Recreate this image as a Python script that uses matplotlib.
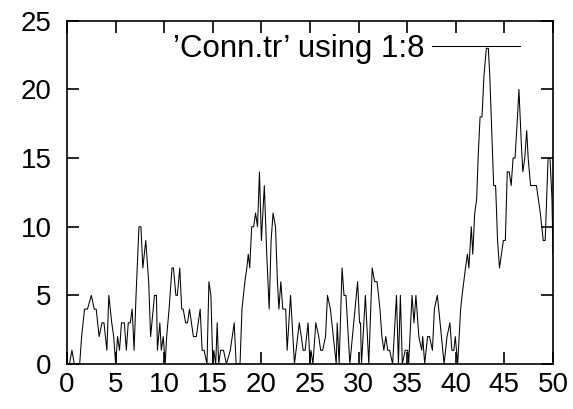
# Connection count trace ('Conn.tr' column 8), gnuplot-style look

import matplotlib
matplotlib.use("Agg")
import matplotlib.pyplot as plt

plt.rcParams['font.family'] = ['Liberation Sans', 'DejaVu Sans']

# --- data ---
time = [0.0, 0.25, 0.5, 0.75, 1.0, 1.3, 1.5, 1.8, 2.1, 2.5, 2.8, 3.0, 3.3, 3.6, 3.8,
        4.1, 4.3, 4.6, 4.8, 5.0, 5.2, 5.4, 5.6, 5.9, 6.1, 6.3, 6.5, 6.7, 6.9, 7.1,
        7.4, 7.6, 7.8, 8.1, 8.4, 8.6, 9.0, 9.2, 9.3, 9.55, 9.7, 9.9, 10.1, 10.25, 10.5,
        10.8, 10.95, 11.2, 11.35, 11.6, 11.8, 11.95, 12.2, 12.4, 12.6, 13.0, 13.3, 13.7,
        13.9, 14.1, 14.4, 14.6, 14.8, 15.0, 15.1, 15.3, 15.45, 15.6, 15.8, 16.1, 16.4,
        16.8, 17.2, 17.4, 17.8, 18.0, 18.15, 18.3, 18.5, 18.65, 18.8, 19.0, 19.2, 19.4,
        19.6, 19.8, 20.0, 20.3, 20.55, 20.8, 21.0, 21.2, 21.45, 21.65, 21.8, 22.0, 22.2,
        22.5, 22.65, 23.0, 23.4, 23.9, 24.1, 24.3, 24.5, 24.8, 25.0, 25.1, 25.3, 25.6,
        25.9, 26.1, 26.3, 26.6, 26.8, 27.1, 27.4, 27.7, 27.8, 28.0, 28.3, 28.5, 28.7,
        29.1, 29.5, 29.9, 30.1, 30.2, 30.3, 30.7, 31.05, 31.4, 31.65, 31.9, 32.2, 32.4,
        32.6, 32.8, 33.0, 33.2, 33.5, 33.9, 34.1, 34.3, 34.5, 34.8, 35.05, 35.15, 35.5,
        35.7, 35.9, 36.2, 36.5, 36.6, 36.8, 37.1, 37.3, 37.6, 37.8, 38.1, 38.25, 38.8,
        39.1, 39.4, 39.6, 39.8, 39.95, 40.2, 40.5, 40.65, 41.0, 41.2, 41.35, 41.6, 41.75,
        41.95, 42.15, 42.3, 42.5, 42.7, 42.9, 43.15, 43.35, 43.5, 43.9, 44.1, 44.3, 44.5,
        44.9, 45.1, 45.3, 45.5, 45.7, 45.9, 46.1, 46.35, 46.5, 46.75, 46.9, 47.1, 47.3,
        47.45, 47.7, 48.1, 48.3, 48.7, 49.0, 49.2, 49.5, 49.7, 49.9, 50.0]

conns = [0, 0, 1, 0, 0, 0, 2, 4, 4, 5, 4, 4, 2, 3, 3,
         1, 5, 3, 2, 0, 2, 1, 3, 3, 1, 3, 3, 4, 1, 5,
         10, 10, 7, 9, 6, 2, 5, 5, 1, 3, 1, 2, 0, 2, 4,
         7, 7, 5, 5, 7, 4, 4, 3, 3, 4, 2, 2, 4,
         1, 1, 0, 6, 5, 0, 1, 0, 3, 0, 1, 1, 0,
         1, 3, 0, 0, 4, 5, 6, 7, 8, 7, 10, 10, 11,
         10, 14, 9, 13, 8, 4, 9, 11, 10, 6, 4, 6, 4,
         4, 1, 5, 0, 3, 2, 1, 1, 3, 0, 1, 0, 3,
         2, 1, 1, 2, 5, 4, 2, 0, 3, 0, 7, 5, 5,
         0, 3, 6, 3, 3, 0, 5, 0, 7, 6, 6, 4, 2,
         1, 2, 1, 1, 0, 5, 0, 5, 0, 1, 1, 0, 5,
         3, 5, 2, 1, 2, 0, 2, 2, 1, 4, 5, 4, 0,
         2, 3, 1, 1, 2, 0, 4, 5, 7, 8, 7, 10, 8,
         11, 12, 15, 18, 18, 21, 23, 23, 21, 13, 13, 9, 7,
         9, 9, 14, 14, 13, 15, 15, 18, 20, 16, 14, 15, 17,
         15, 13, 13, 13, 11, 9, 9, 15, 15, 12, 8]

x_ticks = [0, 5, 10, 15, 20, 25, 30, 35, 40, 45, 50]
y_ticks = [0, 5, 10, 15, 20, 25]

fig = plt.figure(figsize=(5.73, 4.09), dpi=100)
ax = fig.add_axes([0.117, 0.110, 0.848, 0.839])

ax.plot(time, conns, color='black', linewidth=0.75, label='\u2019Conn.tr\u2019 using 1:8')

ax.set_xlim(0, 50)
ax.set_ylim(0, 25)
ax.set_xticks(x_ticks)
ax.set_yticks(y_ticks)
ax.tick_params(direction='in', length=8.5, width=1.2, top=True, right=True,
               labelsize=20)
ax.tick_params(axis='x', pad=6)
ax.tick_params(axis='y', pad=11)
for sp in ax.spines.values():
    sp.set_linewidth(1.2)

ax.legend(loc='center right', frameon=False, markerfirst=False, fontsize=22.5,
          handlelength=2.8, handletextpad=0.25, borderpad=0, borderaxespad=0,
          bbox_to_anchor=(0.932, 0.918))

fig.savefig("out.png", dpi=100)
